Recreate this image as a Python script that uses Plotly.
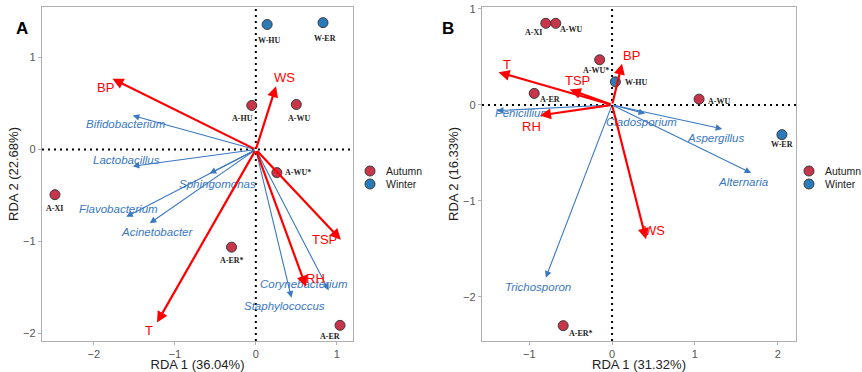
import plotly.graph_objects as go

# ---------------- Panel A data ----------------
a_site = ["W-HU", "W-ER", "A-HU", "A-WU", "A-WU*", "A-XI", "A-ER*", "A-ER"]
a_season = ["Winter", "Winter", "Autumn", "Autumn", "Autumn", "Autumn", "Autumn", "Autumn"]
a_x = [0.14, 0.83, -0.05, 0.50, 0.26, -2.48, -0.30, 1.04]
a_y = [1.36, 1.38, 0.48, 0.49, -0.25, -0.49, -1.06, -1.91]

a_env = ["BP", "WS", "TSP", "RH", "T"]
a_env_x = [-1.77, 0.25, 1.05, 0.62, -1.22]
a_env_y = [0.77, 0.69, -0.98, -1.49, -1.88]

a_sp = ["Bifidobacterium", "Lactobacillus", "Sphingomonas", "Flavobacterium",
        "Acinetobacter", "Corynebacterium", "Staphylococcus"]
a_sp_x = [-1.52, -1.52, -0.57, -1.60, -1.31, 0.90, 0.44]
a_sp_y = [0.37, -0.18, -0.26, -0.73, -0.80, -1.53, -1.61]

# ---------------- Panel B data ----------------
b_site = ["A-XI", "A-WU", "A-WU*", "W-HU", "A-ER", "A-WU", "W-ER", "A-ER*"]
b_season = ["Autumn", "Autumn", "Autumn", "Winter", "Autumn", "Autumn", "Winter", "Autumn"]
b_x = [-0.80, -0.68, -0.15, 0.04, -0.94, 1.05, 2.05, -0.59]
b_y = [0.85, 0.85, 0.47, 0.24, 0.12, 0.06, -0.31, -2.30]

b_env = ["T", "TSP", "BP", "RH", "WS"]
b_env_x = [-1.37, -0.51, 0.12, -0.87, 0.41]
b_env_y = [0.34, 0.16, 0.43, -0.11, -1.40]

b_sp = ["Penicillium", "Cladosporium", "Aspergillus", "Alternaria", "Trichosporon"]
b_sp_x = [-1.39, 0.40, 1.33, 1.68, -0.80]
b_sp_y = [-0.06, -0.09, -0.25, -0.71, -1.80]

legend_labels = ["Autumn", "Winter"]
season_colors = {"Autumn": "#C8354A", "Winter": "#2B7BB9"}
ENV_COLOR = "#FF0000"
SP_COLOR = "#3A78C2"
FONT = "Liberation Sans, Arial, sans-serif"
W, H = 862, 372

# label placements (offset in data units, relative to arrow tip / point)
a_env_lab = {"BP": (-0.09, -0.10), "WS": (0.10, 0.09), "TSP": (-0.20, 0.0),
             "RH": (0.12, 0.09), "T": (-0.10, -0.09)}
a_sp_lab = {"Bifidobacterium": (-0.08, -0.09), "Lactobacillus": (-0.08, 0.07),
            "Sphingomonas": (0.10, -0.11), "Flavobacterium": (-0.09, 0.08),
            "Acinetobacter": (0.09, -0.09), "Corynebacterium": (-0.30, 0.07),
            "Staphylococcus": (-0.09, -0.09)}
a_pt_lab = [(0.03, -0.17), (0.03, -0.17), (-0.12, -0.14), (0.03, -0.15),
            (0.26, 0.0), (0.0, -0.15), (0.0, -0.14), (-0.12, -0.12)]

b_env_lab = {"T": (0.10, 0.08), "TSP": (0.09, 0.09), "BP": (0.11, 0.08),
             "RH": (-0.10, -0.11), "WS": (0.10, 0.09)}
b_sp_lab = {"Penicillium": (0.31, -0.02), "Cladosporium": (-0.05, -0.09),
            "Aspergillus": (-0.08, -0.09), "Alternaria": (-0.10, -0.09),
            "Trichosporon": (-0.09, -0.10)}
b_pt_lab = [(-0.15, -0.10), (0.19, -0.06), (-0.05, -0.11), (0.25, -0.01),
            (0.19, -0.06), (0.24, -0.02), (0.0, -0.10), (0.21, -0.08)]

fig = go.Figure()
annotations = []
shapes = []
DOT = dict(color="black", width=2, dash="2px,4px")


def add_panel(xr, yr, site, season, px, py, pt_off,
              env, ex, ey, env_off, sp, sx, sy, sp_off):
    # dotted zero lines
    shapes.append(dict(type="line", xref=xr, yref=yr + " domain", x0=0, x1=0, y0=0, y1=1,
                       line=DOT, layer="below"))
    shapes.append(dict(type="line", xref=xr + " domain", yref=yr, x0=0, x1=1, y0=0, y1=0,
                       line=DOT, layer="below"))
    # species arrows
    for n, x, y in zip(sp, sx, sy):
        annotations.append(dict(x=x, y=y, ax=0, ay=0, xref=xr, yref=yr, axref=xr, ayref=yr,
                                showarrow=True, arrowhead=2, arrowsize=1.2, arrowwidth=1.1,
                                arrowcolor=SP_COLOR, text=""))
        dx, dy = sp_off[n]
        annotations.append(dict(x=x + dx, y=y + dy, xref=xr, yref=yr, showarrow=False,
                                text="<i>" + n + "</i>",
                                font=dict(family=FONT, size=11.5, color=SP_COLOR)))
    # environment arrows
    for n, x, y in zip(env, ex, ey):
        annotations.append(dict(x=x, y=y, ax=0, ay=0, xref=xr, yref=yr, axref=xr, ayref=yr,
                                showarrow=True, arrowhead=2, arrowsize=1.0, arrowwidth=2.2,
                                arrowcolor=ENV_COLOR, text=""))
        dx, dy = env_off[n]
        annotations.append(dict(x=x + dx, y=y + dy, xref=xr, yref=yr, showarrow=False,
                                text=n, font=dict(family=FONT, size=13, color=ENV_COLOR)))
    # points
    for s in legend_labels:
        idx = [i for i, v in enumerate(season) if v == s]
        fig.add_trace(go.Scatter(
            x=[px[i] for i in idx], y=[py[i] for i in idx], mode="markers",
            name=s, showlegend=False, xaxis=xr, yaxis=yr,
            marker=dict(size=10, color=season_colors[s],
                        line=dict(color="#3A3A3A", width=1))))
    for i, n in enumerate(site):
        dx, dy = pt_off[i]
        annotations.append(dict(x=px[i] + dx, y=py[i] + dy, xref=xr, yref=yr, showarrow=False,
                                text="<b>" + n + "</b>",
                                font=dict(family="Liberation Serif, Times New Roman, serif",
                                          size=8, color="#222222")))


add_panel("x", "y", a_site, a_season, a_x, a_y, a_pt_lab,
          a_env, a_env_x, a_env_y, a_env_lab, a_sp, a_sp_x, a_sp_y, a_sp_lab)
add_panel("x2", "y2", b_site, b_season, b_x, b_y, b_pt_lab,
          b_env, b_env_x, b_env_y, b_env_lab, b_sp, b_sp_x, b_sp_y, b_sp_lab)

# legends (one per panel)
for lx in (370, 809):
    for k, lab in enumerate(legend_labels):
        ly = 171 + 13 * k
        shapes.append(dict(type="circle", xref="paper", yref="paper",
                           xsizemode="pixel", ysizemode="pixel",
                           xanchor=lx / W, yanchor=1 - ly / H,
                           x0=-5, x1=5, y0=-5, y1=5,
                           fillcolor=season_colors[lab], line=dict(color="#3A3A3A", width=1)))
        annotations.append(dict(x=(lx + 14) / W, y=1 - ly / H, xref="paper", yref="paper",
                                xanchor="left", yanchor="middle", showarrow=False, text=lab,
                                font=dict(family=FONT, size=10.5, color="#222222")))

# panel letters
annotations.append(dict(x=14 / W, y=1 - 17 / H, xref="paper", yref="paper", showarrow=False,
                        text="<b>A</b>", font=dict(family=FONT, size=17, color="black")))
annotations.append(dict(x=448 / W, y=1 - 17 / H, xref="paper", yref="paper", showarrow=False,
                        text="<b>B</b>", font=dict(family=FONT, size=17, color="black")))

axis_common = dict(showgrid=False, zeroline=False, showline=True, mirror=True,
                   linecolor="#B0B0B0", linewidth=1.3, ticks="outside", ticklen=3,
                   tickcolor="#B0B0B0", tickfont=dict(family=FONT, size=11, color="#555555"),
                   title_font=dict(family=FONT, size=13, color="#222222"), automargin=False)

fig.update_layout(
    width=W, height=H, autosize=False,
    margin=dict(l=0, r=0, t=0, b=0, pad=0),
    paper_bgcolor="white", plot_bgcolor="white",
    showlegend=False,
    xaxis=dict(domain=[42 / W, 353 / W], range=[-2.64, 1.2], autorange=False, tickvals=[-2, -1, 0, 1],
               title=dict(text="RDA 1 (36.04%)", standoff=4), anchor="y", **axis_common),
    yaxis=dict(domain=[1 - 341 / H, 1 - 7 / H], range=[-2.08, 1.55], autorange=False, tickvals=[-2, -1, 0, 1],
               title=dict(text="RDA 2 (22.68%)", standoff=1), anchor="x", **axis_common),
    xaxis2=dict(domain=[482 / W, 796 / W], range=[-1.57, 2.22], autorange=False, tickvals=[-1, 0, 1, 2],
                title=dict(text="RDA 1 (31.32%)", standoff=4), anchor="y2", **axis_common),
    yaxis2=dict(domain=[1 - 341 / H, 1 - 7 / H], range=[-2.46, 1.02], autorange=False, tickvals=[-2, -1, 0, 1],
                title=dict(text="RDA 2 (16.33%)", standoff=1), anchor="x2", **axis_common),
    annotations=annotations,
    shapes=shapes,
)

fig.write_html("out.html")
